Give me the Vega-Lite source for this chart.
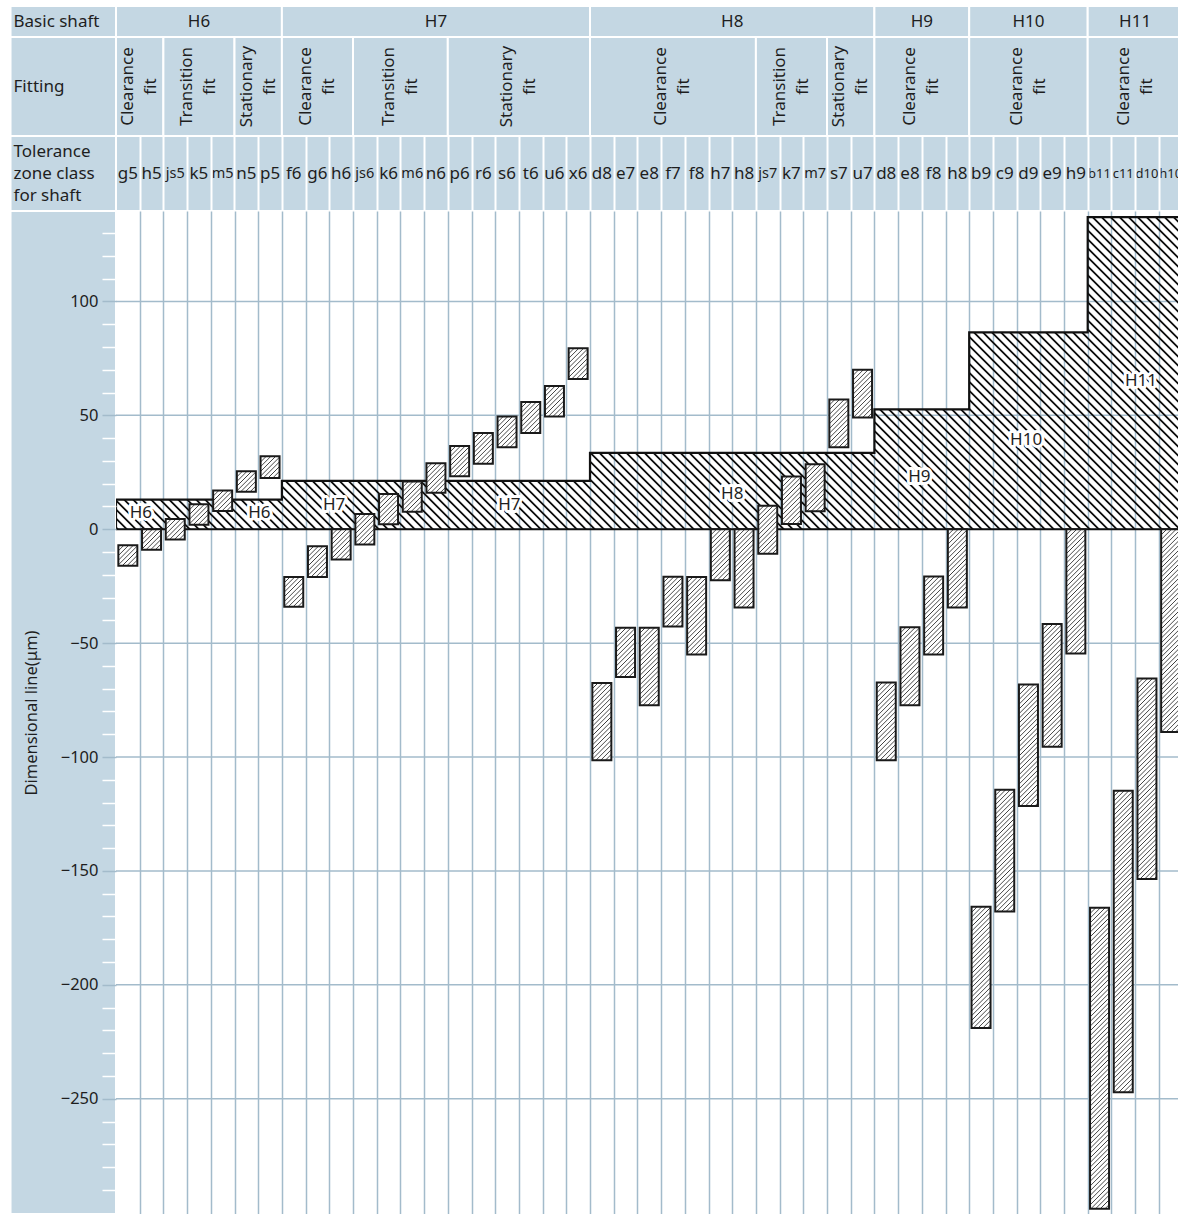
{
"$schema":"https://vega.github.io/schema/vega-lite/v6.json",
"background":"white",
"padding":{"top":6,"left":0,"right":0,"bottom":0},
"spacing":0,
"bounds":"flush",
"config":{"view":{"stroke":null},"font":"Noto Sans"},
"params":[{"name":"barStops","value":[
{"offset":0,"color":"#fff"},{"offset":0.002,"color":"#3a3a3a"},{"offset":0.004,"color":"#fff"},
{"offset":0.01,"color":"#fff"},{"offset":0.012,"color":"#3a3a3a"},{"offset":0.014,"color":"#fff"},
{"offset":0.02,"color":"#fff"},{"offset":0.022,"color":"#3a3a3a"},{"offset":0.024,"color":"#fff"},
{"offset":0.03,"color":"#fff"},{"offset":0.032,"color":"#3a3a3a"},{"offset":0.034,"color":"#fff"},
{"offset":0.04,"color":"#fff"},{"offset":0.042,"color":"#3a3a3a"},{"offset":0.044,"color":"#fff"},
{"offset":0.05,"color":"#fff"},{"offset":0.052,"color":"#3a3a3a"},{"offset":0.054,"color":"#fff"},
{"offset":0.06,"color":"#fff"},{"offset":0.062,"color":"#3a3a3a"},{"offset":0.064,"color":"#fff"},
{"offset":0.07,"color":"#fff"},{"offset":0.072,"color":"#3a3a3a"},{"offset":0.074,"color":"#fff"},
{"offset":0.08,"color":"#fff"},{"offset":0.082,"color":"#3a3a3a"},{"offset":0.084,"color":"#fff"},
{"offset":0.09,"color":"#fff"},{"offset":0.092,"color":"#3a3a3a"},{"offset":0.094,"color":"#fff"},
{"offset":0.1,"color":"#fff"},{"offset":0.102,"color":"#3a3a3a"},{"offset":0.104,"color":"#fff"},
{"offset":0.11,"color":"#fff"},{"offset":0.112,"color":"#3a3a3a"},{"offset":0.114,"color":"#fff"},
{"offset":0.12,"color":"#fff"},{"offset":0.122,"color":"#3a3a3a"},{"offset":0.124,"color":"#fff"},
{"offset":0.13,"color":"#fff"},{"offset":0.132,"color":"#3a3a3a"},{"offset":0.134,"color":"#fff"},
{"offset":0.14,"color":"#fff"},{"offset":0.142,"color":"#3a3a3a"},{"offset":0.144,"color":"#fff"},
{"offset":0.15,"color":"#fff"},{"offset":0.152,"color":"#3a3a3a"},{"offset":0.154,"color":"#fff"},
{"offset":0.16,"color":"#fff"},{"offset":0.162,"color":"#3a3a3a"},{"offset":0.164,"color":"#fff"},
{"offset":0.17,"color":"#fff"},{"offset":0.172,"color":"#3a3a3a"},{"offset":0.174,"color":"#fff"},
{"offset":0.18,"color":"#fff"},{"offset":0.182,"color":"#3a3a3a"},{"offset":0.184,"color":"#fff"},
{"offset":0.19,"color":"#fff"},{"offset":0.192,"color":"#3a3a3a"},{"offset":0.194,"color":"#fff"},
{"offset":0.2,"color":"#fff"},{"offset":0.202,"color":"#3a3a3a"},{"offset":0.204,"color":"#fff"},
{"offset":0.21,"color":"#fff"},{"offset":0.212,"color":"#3a3a3a"},{"offset":0.214,"color":"#fff"},
{"offset":0.22,"color":"#fff"},{"offset":0.222,"color":"#3a3a3a"},{"offset":0.224,"color":"#fff"},
{"offset":0.23,"color":"#fff"},{"offset":0.232,"color":"#3a3a3a"},{"offset":0.234,"color":"#fff"},
{"offset":0.24,"color":"#fff"},{"offset":0.242,"color":"#3a3a3a"},{"offset":0.244,"color":"#fff"},
{"offset":0.25,"color":"#fff"},{"offset":0.252,"color":"#3a3a3a"},{"offset":0.254,"color":"#fff"},
{"offset":0.26,"color":"#fff"},{"offset":0.262,"color":"#3a3a3a"},{"offset":0.264,"color":"#fff"},
{"offset":0.27,"color":"#fff"},{"offset":0.272,"color":"#3a3a3a"},{"offset":0.274,"color":"#fff"},
{"offset":0.28,"color":"#fff"},{"offset":0.282,"color":"#3a3a3a"},{"offset":0.284,"color":"#fff"},
{"offset":0.29,"color":"#fff"},{"offset":0.292,"color":"#3a3a3a"},{"offset":0.294,"color":"#fff"},
{"offset":0.3,"color":"#fff"},{"offset":0.302,"color":"#3a3a3a"},{"offset":0.304,"color":"#fff"},
{"offset":0.31,"color":"#fff"},{"offset":0.312,"color":"#3a3a3a"},{"offset":0.314,"color":"#fff"},
{"offset":0.32,"color":"#fff"},{"offset":0.322,"color":"#3a3a3a"},{"offset":0.324,"color":"#fff"},
{"offset":0.33,"color":"#fff"},{"offset":0.332,"color":"#3a3a3a"},{"offset":0.334,"color":"#fff"},
{"offset":0.34,"color":"#fff"},{"offset":0.342,"color":"#3a3a3a"},{"offset":0.344,"color":"#fff"},
{"offset":0.35,"color":"#fff"},{"offset":0.352,"color":"#3a3a3a"},{"offset":0.354,"color":"#fff"},
{"offset":0.36,"color":"#fff"},{"offset":0.362,"color":"#3a3a3a"},{"offset":0.364,"color":"#fff"},
{"offset":0.37,"color":"#fff"},{"offset":0.372,"color":"#3a3a3a"},{"offset":0.374,"color":"#fff"},
{"offset":0.38,"color":"#fff"},{"offset":0.382,"color":"#3a3a3a"},{"offset":0.384,"color":"#fff"},
{"offset":0.39,"color":"#fff"},{"offset":0.392,"color":"#3a3a3a"},{"offset":0.394,"color":"#fff"},
{"offset":0.4,"color":"#fff"},{"offset":0.402,"color":"#3a3a3a"},{"offset":0.404,"color":"#fff"},
{"offset":0.41,"color":"#fff"},{"offset":0.412,"color":"#3a3a3a"},{"offset":0.414,"color":"#fff"},
{"offset":0.42,"color":"#fff"},{"offset":0.422,"color":"#3a3a3a"},{"offset":0.424,"color":"#fff"},
{"offset":0.43,"color":"#fff"},{"offset":0.432,"color":"#3a3a3a"},{"offset":0.434,"color":"#fff"},
{"offset":0.44,"color":"#fff"},{"offset":0.442,"color":"#3a3a3a"},{"offset":0.444,"color":"#fff"},
{"offset":0.45,"color":"#fff"},{"offset":0.452,"color":"#3a3a3a"},{"offset":0.454,"color":"#fff"},
{"offset":0.46,"color":"#fff"},{"offset":0.462,"color":"#3a3a3a"},{"offset":0.464,"color":"#fff"},
{"offset":0.47,"color":"#fff"},{"offset":0.472,"color":"#3a3a3a"},{"offset":0.474,"color":"#fff"},
{"offset":0.48,"color":"#fff"},{"offset":0.482,"color":"#3a3a3a"},{"offset":0.484,"color":"#fff"},
{"offset":0.49,"color":"#fff"},{"offset":0.492,"color":"#3a3a3a"},{"offset":0.494,"color":"#fff"},
{"offset":0.5,"color":"#fff"},{"offset":0.502,"color":"#3a3a3a"},{"offset":0.504,"color":"#fff"},
{"offset":0.51,"color":"#fff"},{"offset":0.512,"color":"#3a3a3a"},{"offset":0.514,"color":"#fff"},
{"offset":0.52,"color":"#fff"},{"offset":0.522,"color":"#3a3a3a"},{"offset":0.524,"color":"#fff"},
{"offset":0.53,"color":"#fff"},{"offset":0.532,"color":"#3a3a3a"},{"offset":0.534,"color":"#fff"},
{"offset":0.54,"color":"#fff"},{"offset":0.542,"color":"#3a3a3a"},{"offset":0.544,"color":"#fff"},
{"offset":0.55,"color":"#fff"},{"offset":0.552,"color":"#3a3a3a"},{"offset":0.554,"color":"#fff"},
{"offset":0.56,"color":"#fff"},{"offset":0.562,"color":"#3a3a3a"},{"offset":0.564,"color":"#fff"},
{"offset":0.57,"color":"#fff"},{"offset":0.572,"color":"#3a3a3a"},{"offset":0.574,"color":"#fff"},
{"offset":0.58,"color":"#fff"},{"offset":0.582,"color":"#3a3a3a"},{"offset":0.584,"color":"#fff"},
{"offset":0.59,"color":"#fff"},{"offset":0.592,"color":"#3a3a3a"},{"offset":0.594,"color":"#fff"},
{"offset":0.6,"color":"#fff"},{"offset":0.602,"color":"#3a3a3a"},{"offset":0.604,"color":"#fff"},
{"offset":0.61,"color":"#fff"},{"offset":0.612,"color":"#3a3a3a"},{"offset":0.614,"color":"#fff"},
{"offset":0.62,"color":"#fff"},{"offset":0.622,"color":"#3a3a3a"},{"offset":0.624,"color":"#fff"},
{"offset":0.63,"color":"#fff"},{"offset":0.632,"color":"#3a3a3a"},{"offset":0.634,"color":"#fff"},
{"offset":0.64,"color":"#fff"},{"offset":0.642,"color":"#3a3a3a"},{"offset":0.644,"color":"#fff"},
{"offset":0.65,"color":"#fff"},{"offset":0.652,"color":"#3a3a3a"},{"offset":0.654,"color":"#fff"},
{"offset":0.66,"color":"#fff"},{"offset":0.662,"color":"#3a3a3a"},{"offset":0.664,"color":"#fff"},
{"offset":0.67,"color":"#fff"},{"offset":0.672,"color":"#3a3a3a"},{"offset":0.674,"color":"#fff"},
{"offset":0.68,"color":"#fff"},{"offset":0.682,"color":"#3a3a3a"},{"offset":0.684,"color":"#fff"},
{"offset":0.69,"color":"#fff"},{"offset":0.692,"color":"#3a3a3a"},{"offset":0.694,"color":"#fff"},
{"offset":0.7,"color":"#fff"},{"offset":0.702,"color":"#3a3a3a"},{"offset":0.704,"color":"#fff"}
]}],
"datasets":{
"shafts":[
{"cls":"g5","pos":0.5,"hi":-7,"lo":-16},
{"cls":"h5","pos":1.5,"hi":0,"lo":-9},
{"cls":"js5","pos":2.5,"hi":4.5,"lo":-4.5},
{"cls":"k5","pos":3.5,"hi":11,"lo":2},
{"cls":"m5","pos":4.5,"hi":17,"lo":8},
{"cls":"n5","pos":5.5,"hi":25.5,"lo":16.5},
{"cls":"p5","pos":6.5,"hi":32,"lo":22.5},
{"cls":"f6","pos":7.5,"hi":-21,"lo":-34},
{"cls":"g6","pos":8.5,"hi":-7.5,"lo":-21},
{"cls":"h6","pos":9.5,"hi":0,"lo":-13.3},
{"cls":"js6","pos":10.5,"hi":6.7,"lo":-6.7},
{"cls":"k6","pos":11.5,"hi":15.5,"lo":2.2},
{"cls":"m6","pos":12.5,"hi":21,"lo":7.7},
{"cls":"n6","pos":13.5,"hi":29,"lo":16},
{"cls":"p6","pos":14.5,"hi":36.5,"lo":23.3},
{"cls":"r6","pos":15.5,"hi":42.3,"lo":28.8},
{"cls":"s6","pos":16.5,"hi":49.5,"lo":36},
{"cls":"t6","pos":17.5,"hi":55.8,"lo":42.3},
{"cls":"u6","pos":18.5,"hi":62.9,"lo":49.5},
{"cls":"x6","pos":19.5,"hi":79.5,"lo":66},
{"cls":"d8","pos":20.5,"hi":-67.5,"lo":-101.4},
{"cls":"e7","pos":21.5,"hi":-43.2,"lo":-64.9},
{"cls":"e8","pos":22.5,"hi":-43.2,"lo":-77.3},
{"cls":"f7","pos":23.5,"hi":-20.9,"lo":-42.7},
{"cls":"f8","pos":24.5,"hi":-21,"lo":-55},
{"cls":"h7","pos":25.5,"hi":0,"lo":-22.4},
{"cls":"h8","pos":26.5,"hi":0,"lo":-34.4},
{"cls":"js7","pos":27.5,"hi":10.3,"lo":-10.8},
{"cls":"k7","pos":28.5,"hi":23.1,"lo":2.3},
{"cls":"m7","pos":29.5,"hi":28.5,"lo":7.9},
{"cls":"s7","pos":30.5,"hi":57,"lo":36},
{"cls":"u7","pos":31.5,"hi":70,"lo":49},
{"cls":"d8","pos":32.5,"hi":-67.3,"lo":-101.4},
{"cls":"e8","pos":33.5,"hi":-43,"lo":-77.3},
{"cls":"f8","pos":34.5,"hi":-20.8,"lo":-55},
{"cls":"h8","pos":35.5,"hi":0,"lo":-34.4},
{"cls":"b9","pos":36.5,"hi":-165.7,"lo":-218.9},
{"cls":"c9","pos":37.5,"hi":-114.4,"lo":-167.8},
{"cls":"d9","pos":38.5,"hi":-68.2,"lo":-121.5},
{"cls":"e9","pos":39.5,"hi":-41.6,"lo":-95.5},
{"cls":"h9","pos":40.5,"hi":0,"lo":-54.5},
{"cls":"b11","pos":41.5,"hi":-166.2,"lo":-298.3},
{"cls":"c11","pos":42.5,"hi":-114.8,"lo":-247.1},
{"cls":"d10","pos":43.5,"hi":-65.5,"lo":-153.5},
{"cls":"h10","pos":44.5,"hi":0,"lo":-89}
],
"row1":[
{"t":"Basic shaft","from":-4.45,"to":0,"mid":-2.2},
{"t":"H6","from":0,"to":7,"mid":3.5},
{"t":"H7","from":7,"to":20,"mid":13.5},
{"t":"H8","from":20,"to":32,"mid":26},
{"t":"H9","from":32,"to":36,"mid":34},
{"t":"H10","from":36,"to":41,"mid":38.5},
{"t":"H11","from":41,"to":45,"mid":43}
],
"row2":[
{"t":"Fitting","from":-4.45,"to":0,"mid":-2.2},
{"t":"Clearance\nfit","from":0,"to":2,"mid":1},
{"t":"Transition\nfit","from":2,"to":5,"mid":3.5},
{"t":"Stationary\nfit","from":5,"to":7,"mid":6},
{"t":"Clearance\nfit","from":7,"to":10,"mid":8.5},
{"t":"Transition\nfit","from":10,"to":14,"mid":12},
{"t":"Stationary\nfit","from":14,"to":20,"mid":17},
{"t":"Clearance\nfit","from":20,"to":27,"mid":23.5},
{"t":"Transition\nfit","from":27,"to":30,"mid":28.5},
{"t":"Stationary\nfit","from":30,"to":32,"mid":31},
{"t":"Clearance\nfit","from":32,"to":36,"mid":34},
{"t":"Clearance\nfit","from":36,"to":41,"mid":38.5},
{"t":"Clearance\nfit","from":41,"to":45,"mid":43}
],
"row3":[
{"t":"Tolerance\nzone class\nfor shaft","from":-4.45,"to":0},
{"t":"","from":0,"to":45}
],
"zones":[
{"c":0,"top":13},{"c":7,"top":21.2},{"c":20,"top":33.5},{"c":32,"top":52.6},{"c":36,"top":86.4},{"c":41,"top":137},{"c":45,"top":137}
],
"zoneLabels":[
{"t":"H6","x":1.05,"y":7},{"t":"H6","x":6.05,"y":7},{"t":"H7","x":9.2,"y":10.7},{"t":"H7","x":16.6,"y":10.7},{"t":"H8","x":26,"y":15.4},{"t":"H9","x":33.9,"y":23},{"t":"H10","x":38.4,"y":39},{"t":"H11","x":43.25,"y":65}
],
"grid":[{"v":-250},{"v":-200},{"v":-150},{"v":-100},{"v":-50},{"v":0},{"v":50},{"v":100}]
},
"vconcat":[
{"width":1178,"height":31,"data":{"name":"row1"},
 "layer":[
  {"mark":{"type":"rect","fill":"#c4d7e3","stroke":"white","strokeWidth":2,"clip":true},
   "encoding":{"x":{"field":"from","type":"quantitative","scale":{"domain":[-4.8945,44.8101],"nice":false,"zero":false},"axis":null},"x2":{"field":"to"},"y":{"value":0},"y2":{"value":"height"}}},
  {"transform":[{"filter":"datum.from >= 0"}],"mark":{"type":"text","fontSize":17,"color":"#1e1e1e"},
   "encoding":{"x":{"field":"mid","type":"quantitative","scale":{"domain":[-4.8945,44.8101],"nice":false,"zero":false},"axis":null},"text":{"field":"t"}}},
  {"transform":[{"filter":"datum.from < 0"}],"mark":{"type":"text","fontSize":17,"align":"left","dx":3,"color":"#1e1e1e"},
   "encoding":{"x":{"field":"from","type":"quantitative","scale":{"domain":[-4.8945,44.8101],"nice":false,"zero":false},"axis":null},"text":{"field":"t"}}}
 ]},
{"width":1178,"height":99,"data":{"name":"row2"},
 "layer":[
  {"mark":{"type":"rect","fill":"#c4d7e3","stroke":"white","strokeWidth":2,"clip":true},
   "encoding":{"x":{"field":"from","type":"quantitative","scale":{"domain":[-4.8945,44.8101],"nice":false,"zero":false},"axis":null},"x2":{"field":"to"},"y":{"value":0},"y2":{"value":"height"}}},
  {"transform":[{"filter":"datum.from >= 0"}],"mark":{"type":"text","fontSize":17,"angle":270,"lineBreak":"\n","lineHeight":23,"dy":-11.5,"color":"#1e1e1e"},
   "encoding":{"x":{"field":"mid","type":"quantitative","scale":{"domain":[-4.8945,44.8101],"nice":false,"zero":false},"axis":null},"text":{"field":"t"}}},
  {"transform":[{"filter":"datum.from < 0"}],"mark":{"type":"text","fontSize":17,"align":"left","dx":3,"color":"#1e1e1e"},
   "encoding":{"x":{"field":"from","type":"quantitative","scale":{"domain":[-4.8945,44.8101],"nice":false,"zero":false},"axis":null},"text":{"field":"t"}}}
 ]},
{"width":1178,"height":75,
 "layer":[
  {"data":{"name":"row3"},"mark":{"type":"rect","fill":"#c4d7e3","stroke":"white","strokeWidth":2,"clip":true},
   "encoding":{"x":{"field":"from","type":"quantitative","scale":{"domain":[-4.8945,44.8101],"nice":false,"zero":false},
     "axis":{"values":[1,2,3,4,5,6,7,8,9,10,11,12,13,14,15,16,17,18,19,20,21,22,23,24,25,26,27,28,29,30,31,32,33,34,35,36,37,38,39,40,41,42,43,44],"tickCount":200,"grid":true,"gridColor":"white","gridWidth":2,"labels":false,"ticks":false,"domain":false,"title":null,"zindex":1}},
    "x2":{"field":"to"},"y":{"value":0},"y2":{"value":"height"}}},
  {"data":{"name":"row3"},"transform":[{"filter":"datum.from < 0"}],"mark":{"type":"text","fontSize":17,"align":"left","dx":3,"dy":-22,"lineBreak":"\n","lineHeight":22,"color":"#1e1e1e"},
   "encoding":{"x":{"field":"from","type":"quantitative","scale":{"domain":[-4.8945,44.8101],"nice":false,"zero":false}},"text":{"field":"t"}}},
  {"data":{"name":"shafts"},"transform":[{"filter":{"not":{"field":"cls","oneOf":["js5","m5","js6","m6","js7","m7","b11","c11","d10","h10"]}}}],
   "mark":{"type":"text","fontSize":17,"color":"#1e1e1e","clip":true},
   "encoding":{"x":{"field":"pos","type":"quantitative","scale":{"domain":[-4.8945,44.8101],"nice":false,"zero":false}},"text":{"field":"cls"}}},
  {"data":{"name":"shafts"},"transform":[{"filter":{"field":"cls","oneOf":["js5","m5","js6","m6","js7","m7"]}}],
   "mark":{"type":"text","fontSize":14.5,"color":"#1e1e1e","clip":true},
   "encoding":{"x":{"field":"pos","type":"quantitative","scale":{"domain":[-4.8945,44.8101],"nice":false,"zero":false}},"text":{"field":"cls"}}},
  {"data":{"name":"shafts"},"transform":[{"filter":{"field":"cls","oneOf":["b11","c11","d10","h10"]}}],
   "mark":{"type":"text","fontSize":13,"color":"#1e1e1e","clip":true},
   "encoding":{"x":{"field":"pos","type":"quantitative","scale":{"domain":[-4.8945,44.8101],"nice":false,"zero":false}},"text":{"field":"cls"}}}
 ]},
{"hconcat":[
 {"width":116,"height":1003,"data":{"values":[{}]},"mark":{"type":"rect","fill":"#c4d7e3","stroke":"white","strokeWidth":2},
  "encoding":{"x":{"datum":-4.45,"type":"quantitative","scale":{"domain":[-4.8945,0],"nice":false,"zero":false},"axis":null},"x2":{"datum":0},"y":{"value":0},"y2":{"value":"height"}}},
 {"width":1062,"height":1003,
  "layer":[
  {"data":{"name":"grid"},"mark":{"type":"rule","stroke":"#a3bbcb","strokeWidth":1.5},
   "encoding":{"x":{"datum":0,"type":"quantitative","scale":{"domain":[0,44.8101],"nice":false,"zero":false,"padding":0},
      "axis":{"values":[1,2,3,4,5,6,7,8,9,10,11,12,13,14,15,16,17,18,19,20,21,22,23,24,25,26,27,28,29,30,31,32,33,34,35,36,37,38,39,40,41,42,43,44],"tickCount":200,"grid":true,"gridColor":"#a3bbcb","gridWidth":1.5,"labels":false,"ticks":false,"domain":false,"title":null,"zindex":0}},
    "x2":{"value":"width"},
    "y":{"field":"v","type":"quantitative","scale":{"domain":[-300.6,139.7],"nice":false,"zero":false,"padding":0},
     "axis":{"orient":"left","zindex":1,"values":[-290,-280,-270,-260,-250,-240,-230,-220,-210,-200,-190,-180,-170,-160,-150,-140,-130,-120,-110,-100,-90,-80,-70,-60,-50,-40,-30,-20,-10,0,10,20,30,40,50,60,70,80,90,100,110,120,130],
      "tickCount":200,"labelOverlap":false,"domain":false,"grid":false,"tickSize":14,"tickWidth":1.5,
      "tickColor":{"condition":{"test":"datum.value % 50 === 0","value":"#a3bbcb"},"value":"white"},
      "labelExpr":"datum.value % 50 === 0 ? datum.label : ''","labelFontSize":16.5,"labelColor":"#1e1e1e","labelPadding":4,"labelFont":"Noto Sans",
      "title":"Dimensional line(μm)","titleFontSize":16.5,"titleFontWeight":"normal","titleColor":"#1e1e1e","titleFont":"Noto Sans","titlePadding":21}}}},
  {"data":{"name":"zones"},"mark":{"type":"area","interpolate":"step-after","stroke":"#111","strokeWidth":2.2,"clip":true,
    "fill":{"gradient":"linear","x1":0,"y1":1,"x2":1.5546,"y2":0.545,"stops":[
{"offset":0,"color":"transparent"},{"offset":0.0006,"color":"#111"},{"offset":0.0014,"color":"#111"},{"offset":0.002,"color":"transparent"},{"offset":0.005,"color":"transparent"},{"offset":0.0056,"color":"#111"},{"offset":0.0064,"color":"#111"},{"offset":0.007,"color":"transparent"},
{"offset":0.01,"color":"transparent"},{"offset":0.0106,"color":"#111"},{"offset":0.0114,"color":"#111"},{"offset":0.012,"color":"transparent"},{"offset":0.015,"color":"transparent"},{"offset":0.0156,"color":"#111"},{"offset":0.0164,"color":"#111"},{"offset":0.017,"color":"transparent"},
{"offset":0.02,"color":"transparent"},{"offset":0.0206,"color":"#111"},{"offset":0.0214,"color":"#111"},{"offset":0.022,"color":"transparent"},{"offset":0.025,"color":"transparent"},{"offset":0.0256,"color":"#111"},{"offset":0.0264,"color":"#111"},{"offset":0.027,"color":"transparent"},
{"offset":0.03,"color":"transparent"},{"offset":0.0306,"color":"#111"},{"offset":0.0314,"color":"#111"},{"offset":0.032,"color":"transparent"},{"offset":0.035,"color":"transparent"},{"offset":0.0356,"color":"#111"},{"offset":0.0364,"color":"#111"},{"offset":0.037,"color":"transparent"},
{"offset":0.04,"color":"transparent"},{"offset":0.0406,"color":"#111"},{"offset":0.0414,"color":"#111"},{"offset":0.042,"color":"transparent"},{"offset":0.045,"color":"transparent"},{"offset":0.0456,"color":"#111"},{"offset":0.0464,"color":"#111"},{"offset":0.047,"color":"transparent"},
{"offset":0.05,"color":"transparent"},{"offset":0.0506,"color":"#111"},{"offset":0.0514,"color":"#111"},{"offset":0.052,"color":"transparent"},{"offset":0.055,"color":"transparent"},{"offset":0.0556,"color":"#111"},{"offset":0.0564,"color":"#111"},{"offset":0.057,"color":"transparent"},
{"offset":0.06,"color":"transparent"},{"offset":0.0606,"color":"#111"},{"offset":0.0614,"color":"#111"},{"offset":0.062,"color":"transparent"},{"offset":0.065,"color":"transparent"},{"offset":0.0656,"color":"#111"},{"offset":0.0664,"color":"#111"},{"offset":0.067,"color":"transparent"},
{"offset":0.07,"color":"transparent"},{"offset":0.0706,"color":"#111"},{"offset":0.0714,"color":"#111"},{"offset":0.072,"color":"transparent"},{"offset":0.075,"color":"transparent"},{"offset":0.0756,"color":"#111"},{"offset":0.0764,"color":"#111"},{"offset":0.077,"color":"transparent"},
{"offset":0.08,"color":"transparent"},{"offset":0.0806,"color":"#111"},{"offset":0.0814,"color":"#111"},{"offset":0.082,"color":"transparent"},{"offset":0.085,"color":"transparent"},{"offset":0.0856,"color":"#111"},{"offset":0.0864,"color":"#111"},{"offset":0.087,"color":"transparent"},
{"offset":0.09,"color":"transparent"},{"offset":0.0906,"color":"#111"},{"offset":0.0914,"color":"#111"},{"offset":0.092,"color":"transparent"},{"offset":0.095,"color":"transparent"},{"offset":0.0956,"color":"#111"},{"offset":0.0964,"color":"#111"},{"offset":0.097,"color":"transparent"},
{"offset":0.1,"color":"transparent"},{"offset":0.1006,"color":"#111"},{"offset":0.1014,"color":"#111"},{"offset":0.102,"color":"transparent"},{"offset":0.105,"color":"transparent"},{"offset":0.1056,"color":"#111"},{"offset":0.1064,"color":"#111"},{"offset":0.107,"color":"transparent"},
{"offset":0.11,"color":"transparent"},{"offset":0.1106,"color":"#111"},{"offset":0.1114,"color":"#111"},{"offset":0.112,"color":"transparent"},{"offset":0.115,"color":"transparent"},{"offset":0.1156,"color":"#111"},{"offset":0.1164,"color":"#111"},{"offset":0.117,"color":"transparent"},
{"offset":0.12,"color":"transparent"},{"offset":0.1206,"color":"#111"},{"offset":0.1214,"color":"#111"},{"offset":0.122,"color":"transparent"},{"offset":0.125,"color":"transparent"},{"offset":0.1256,"color":"#111"},{"offset":0.1264,"color":"#111"},{"offset":0.127,"color":"transparent"},
{"offset":0.13,"color":"transparent"},{"offset":0.1306,"color":"#111"},{"offset":0.1314,"color":"#111"},{"offset":0.132,"color":"transparent"},{"offset":0.135,"color":"transparent"},{"offset":0.1356,"color":"#111"},{"offset":0.1364,"color":"#111"},{"offset":0.137,"color":"transparent"},
{"offset":0.14,"color":"transparent"},{"offset":0.1406,"color":"#111"},{"offset":0.1414,"color":"#111"},{"offset":0.142,"color":"transparent"},{"offset":0.145,"color":"transparent"},{"offset":0.1456,"color":"#111"},{"offset":0.1464,"color":"#111"},{"offset":0.147,"color":"transparent"},
{"offset":0.15,"color":"transparent"},{"offset":0.1506,"color":"#111"},{"offset":0.1514,"color":"#111"},{"offset":0.152,"color":"transparent"},{"offset":0.155,"color":"transparent"},{"offset":0.1556,"color":"#111"},{"offset":0.1564,"color":"#111"},{"offset":0.157,"color":"transparent"},
{"offset":0.16,"color":"transparent"},{"offset":0.1606,"color":"#111"},{"offset":0.1614,"color":"#111"},{"offset":0.162,"color":"transparent"},{"offset":0.165,"color":"transparent"},{"offset":0.1656,"color":"#111"},{"offset":0.1664,"color":"#111"},{"offset":0.167,"color":"transparent"},
{"offset":0.17,"color":"transparent"},{"offset":0.1706,"color":"#111"},{"offset":0.1714,"color":"#111"},{"offset":0.172,"color":"transparent"},{"offset":0.175,"color":"transparent"},{"offset":0.1756,"color":"#111"},{"offset":0.1764,"color":"#111"},{"offset":0.177,"color":"transparent"},
{"offset":0.18,"color":"transparent"},{"offset":0.1806,"color":"#111"},{"offset":0.1814,"color":"#111"},{"offset":0.182,"color":"transparent"},{"offset":0.185,"color":"transparent"},{"offset":0.1856,"color":"#111"},{"offset":0.1864,"color":"#111"},{"offset":0.187,"color":"transparent"},
{"offset":0.19,"color":"transparent"},{"offset":0.1906,"color":"#111"},{"offset":0.1914,"color":"#111"},{"offset":0.192,"color":"transparent"},{"offset":0.195,"color":"transparent"},{"offset":0.1956,"color":"#111"},{"offset":0.1964,"color":"#111"},{"offset":0.197,"color":"transparent"},
{"offset":0.2,"color":"transparent"},{"offset":0.2006,"color":"#111"},{"offset":0.2014,"color":"#111"},{"offset":0.202,"color":"transparent"},{"offset":0.205,"color":"transparent"},{"offset":0.2056,"color":"#111"},{"offset":0.2064,"color":"#111"},{"offset":0.207,"color":"transparent"},
{"offset":0.21,"color":"transparent"},{"offset":0.2106,"color":"#111"},{"offset":0.2114,"color":"#111"},{"offset":0.212,"color":"transparent"},{"offset":0.215,"color":"transparent"},{"offset":0.2156,"color":"#111"},{"offset":0.2164,"color":"#111"},{"offset":0.217,"color":"transparent"},
{"offset":0.22,"color":"transparent"},{"offset":0.2206,"color":"#111"},{"offset":0.2214,"color":"#111"},{"offset":0.222,"color":"transparent"},{"offset":0.225,"color":"transparent"},{"offset":0.2256,"color":"#111"},{"offset":0.2264,"color":"#111"},{"offset":0.227,"color":"transparent"},
{"offset":0.23,"color":"transparent"},{"offset":0.2306,"color":"#111"},{"offset":0.2314,"color":"#111"},{"offset":0.232,"color":"transparent"},{"offset":0.235,"color":"transparent"},{"offset":0.2356,"color":"#111"},{"offset":0.2364,"color":"#111"},{"offset":0.237,"color":"transparent"},
{"offset":0.24,"color":"transparent"},{"offset":0.2406,"color":"#111"},{"offset":0.2414,"color":"#111"},{"offset":0.242,"color":"transparent"},{"offset":0.245,"color":"transparent"},{"offset":0.2456,"color":"#111"},{"offset":0.2464,"color":"#111"},{"offset":0.247,"color":"transparent"},
{"offset":0.25,"color":"transparent"},{"offset":0.2506,"color":"#111"},{"offset":0.2514,"color":"#111"},{"offset":0.252,"color":"transparent"},{"offset":0.255,"color":"transparent"},{"offset":0.2556,"color":"#111"},{"offset":0.2564,"color":"#111"},{"offset":0.257,"color":"transparent"},
{"offset":0.26,"color":"transparent"},{"offset":0.2606,"color":"#111"},{"offset":0.2614,"color":"#111"},{"offset":0.262,"color":"transparent"},{"offset":0.265,"color":"transparent"},{"offset":0.2656,"color":"#111"},{"offset":0.2664,"color":"#111"},{"offset":0.267,"color":"transparent"},
{"offset":0.27,"color":"transparent"},{"offset":0.2706,"color":"#111"},{"offset":0.2714,"color":"#111"},{"offset":0.272,"color":"transparent"},{"offset":0.275,"color":"transparent"},{"offset":0.2756,"color":"#111"},{"offset":0.2764,"color":"#111"},{"offset":0.277,"color":"transparent"},
{"offset":0.28,"color":"transparent"},{"offset":0.2806,"color":"#111"},{"offset":0.2814,"color":"#111"},{"offset":0.282,"color":"transparent"},{"offset":0.285,"color":"transparent"},{"offset":0.2856,"color":"#111"},{"offset":0.2864,"color":"#111"},{"offset":0.287,"color":"transparent"},
{"offset":0.29,"color":"transparent"},{"offset":0.2906,"color":"#111"},{"offset":0.2914,"color":"#111"},{"offset":0.292,"color":"transparent"},{"offset":0.295,"color":"transparent"},{"offset":0.2956,"color":"#111"},{"offset":0.2964,"color":"#111"},{"offset":0.297,"color":"transparent"},
{"offset":0.3,"color":"transparent"},{"offset":0.3006,"color":"#111"},{"offset":0.3014,"color":"#111"},{"offset":0.302,"color":"transparent"},{"offset":0.305,"color":"transparent"},{"offset":0.3056,"color":"#111"},{"offset":0.3064,"color":"#111"},{"offset":0.307,"color":"transparent"},
{"offset":0.31,"color":"transparent"},{"offset":0.3106,"color":"#111"},{"offset":0.3114,"color":"#111"},{"offset":0.312,"color":"transparent"},{"offset":0.315,"color":"transparent"},{"offset":0.3156,"color":"#111"},{"offset":0.3164,"color":"#111"},{"offset":0.317,"color":"transparent"},
{"offset":0.32,"color":"transparent"},{"offset":0.3206,"color":"#111"},{"offset":0.3214,"color":"#111"},{"offset":0.322,"color":"transparent"},{"offset":0.325,"color":"transparent"},{"offset":0.3256,"color":"#111"},{"offset":0.3264,"color":"#111"},{"offset":0.327,"color":"transparent"},
{"offset":0.33,"color":"transparent"},{"offset":0.3306,"color":"#111"},{"offset":0.3314,"color":"#111"},{"offset":0.332,"color":"transparent"},{"offset":0.335,"color":"transparent"},{"offset":0.3356,"color":"#111"},{"offset":0.3364,"color":"#111"},{"offset":0.337,"color":"transparent"},
{"offset":0.34,"color":"transparent"},{"offset":0.3406,"color":"#111"},{"offset":0.3414,"color":"#111"},{"offset":0.342,"color":"transparent"},{"offset":0.345,"color":"transparent"},{"offset":0.3456,"color":"#111"},{"offset":0.3464,"color":"#111"},{"offset":0.347,"color":"transparent"},
{"offset":0.35,"color":"transparent"},{"offset":0.3506,"color":"#111"},{"offset":0.3514,"color":"#111"},{"offset":0.352,"color":"transparent"},{"offset":0.355,"color":"transparent"},{"offset":0.3556,"color":"#111"},{"offset":0.3564,"color":"#111"},{"offset":0.357,"color":"transparent"},
{"offset":0.36,"color":"transparent"},{"offset":0.3606,"color":"#111"},{"offset":0.3614,"color":"#111"},{"offset":0.362,"color":"transparent"},{"offset":0.365,"color":"transparent"},{"offset":0.3656,"color":"#111"},{"offset":0.3664,"color":"#111"},{"offset":0.367,"color":"transparent"},
{"offset":0.37,"color":"transparent"},{"offset":0.3706,"color":"#111"},{"offset":0.3714,"color":"#111"},{"offset":0.372,"color":"transparent"},{"offset":0.375,"color":"transparent"},{"offset":0.3756,"color":"#111"},{"offset":0.3764,"color":"#111"},{"offset":0.377,"color":"transparent"},
{"offset":0.38,"color":"transparent"},{"offset":0.3806,"color":"#111"},{"offset":0.3814,"color":"#111"},{"offset":0.382,"color":"transparent"},{"offset":0.385,"color":"transparent"},{"offset":0.3856,"color":"#111"},{"offset":0.3864,"color":"#111"},{"offset":0.387,"color":"transparent"},
{"offset":0.39,"color":"transparent"},{"offset":0.3906,"color":"#111"},{"offset":0.3914,"color":"#111"},{"offset":0.392,"color":"transparent"},{"offset":0.395,"color":"transparent"},{"offset":0.3956,"color":"#111"},{"offset":0.3964,"color":"#111"},{"offset":0.397,"color":"transparent"},
{"offset":0.4,"color":"transparent"},{"offset":0.4006,"color":"#111"},{"offset":0.4014,"color":"#111"},{"offset":0.402,"color":"transparent"},{"offset":0.405,"color":"transparent"},{"offset":0.4056,"color":"#111"},{"offset":0.4064,"color":"#111"},{"offset":0.407,"color":"transparent"},
{"offset":0.41,"color":"transparent"},{"offset":0.4106,"color":"#111"},{"offset":0.4114,"color":"#111"},{"offset":0.412,"color":"transparent"},{"offset":0.415,"color":"transparent"},{"offset":0.4156,"color":"#111"},{"offset":0.4164,"color":"#111"},{"offset":0.417,"color":"transparent"},
{"offset":0.42,"color":"transparent"},{"offset":0.4206,"color":"#111"},{"offset":0.4214,"color":"#111"},{"offset":0.422,"color":"transparent"},{"offset":0.425,"color":"transparent"},{"offset":0.4256,"color":"#111"},{"offset":0.4264,"color":"#111"},{"offset":0.427,"color":"transparent"},
{"offset":0.43,"color":"transparent"},{"offset":0.4306,"color":"#111"},{"offset":0.4314,"color":"#111"},{"offset":0.432,"color":"transparent"},{"offset":0.435,"color":"transparent"},{"offset":0.4356,"color":"#111"},{"offset":0.4364,"color":"#111"},{"offset":0.437,"color":"transparent"},
{"offset":0.44,"color":"transparent"},{"offset":0.4406,"color":"#111"},{"offset":0.4414,"color":"#111"},{"offset":0.442,"color":"transparent"},{"offset":0.445,"color":"transparent"},{"offset":0.4456,"color":"#111"},{"offset":0.4464,"color":"#111"},{"offset":0.447,"color":"transparent"},
{"offset":0.45,"color":"transparent"},{"offset":0.4506,"color":"#111"},{"offset":0.4514,"color":"#111"},{"offset":0.452,"color":"transparent"},{"offset":0.455,"color":"transparent"},{"offset":0.4556,"color":"#111"},{"offset":0.4564,"color":"#111"},{"offset":0.457,"color":"transparent"},
{"offset":0.46,"color":"transparent"},{"offset":0.4606,"color":"#111"},{"offset":0.4614,"color":"#111"},{"offset":0.462,"color":"transparent"},{"offset":0.465,"color":"transparent"},{"offset":0.4656,"color":"#111"},{"offset":0.4664,"color":"#111"},{"offset":0.467,"color":"transparent"},
{"offset":0.47,"color":"transparent"},{"offset":0.4706,"color":"#111"},{"offset":0.4714,"color":"#111"},{"offset":0.472,"color":"transparent"},{"offset":0.475,"color":"transparent"},{"offset":0.4756,"color":"#111"},{"offset":0.4764,"color":"#111"},{"offset":0.477,"color":"transparent"},
{"offset":0.48,"color":"transparent"},{"offset":0.4806,"color":"#111"},{"offset":0.4814,"color":"#111"},{"offset":0.482,"color":"transparent"},{"offset":0.485,"color":"transparent"},{"offset":0.4856,"color":"#111"},{"offset":0.4864,"color":"#111"},{"offset":0.487,"color":"transparent"},
{"offset":0.49,"color":"transparent"},{"offset":0.4906,"color":"#111"},{"offset":0.4914,"color":"#111"},{"offset":0.492,"color":"transparent"},{"offset":0.495,"color":"transparent"},{"offset":0.4956,"color":"#111"},{"offset":0.4964,"color":"#111"},{"offset":0.497,"color":"transparent"},
{"offset":0.5,"color":"transparent"},{"offset":0.5006,"color":"#111"},{"offset":0.5014,"color":"#111"},{"offset":0.502,"color":"transparent"},{"offset":0.505,"color":"transparent"},{"offset":0.5056,"color":"#111"},{"offset":0.5064,"color":"#111"},{"offset":0.507,"color":"transparent"},
{"offset":0.51,"color":"transparent"},{"offset":0.5106,"color":"#111"},{"offset":0.5114,"color":"#111"},{"offset":0.512,"color":"transparent"},{"offset":0.515,"color":"transparent"},{"offset":0.5156,"color":"#111"},{"offset":0.5164,"color":"#111"},{"offset":0.517,"color":"transparent"},
{"offset":0.52,"color":"transparent"},{"offset":0.5206,"color":"#111"},{"offset":0.5214,"color":"#111"},{"offset":0.522,"color":"transparent"},{"offset":0.525,"color":"transparent"},{"offset":0.5256,"color":"#111"},{"offset":0.5264,"color":"#111"},{"offset":0.527,"color":"transparent"},
{"offset":0.53,"color":"transparent"},{"offset":0.5306,"color":"#111"},{"offset":0.5314,"color":"#111"},{"offset":0.532,"color":"transparent"},{"offset":0.535,"color":"transparent"},{"offset":0.5356,"color":"#111"},{"offset":0.5364,"color":"#111"},{"offset":0.537,"color":"transparent"},
{"offset":0.54,"color":"transparent"},{"offset":0.5406,"color":"#111"},{"offset":0.5414,"color":"#111"},{"offset":0.542,"color":"transparent"},{"offset":0.545,"color":"transparent"},{"offset":0.5456,"color":"#111"},{"offset":0.5464,"color":"#111"},{"offset":0.547,"color":"transparent"},
{"offset":0.55,"color":"transparent"},{"offset":0.5506,"color":"#111"},{"offset":0.5514,"color":"#111"},{"offset":0.552,"color":"transparent"},{"offset":0.555,"color":"transparent"},{"offset":0.5556,"color":"#111"},{"offset":0.5564,"color":"#111"},{"offset":0.557,"color":"transparent"},
{"offset":0.56,"color":"transparent"},{"offset":0.5606,"color":"#111"},{"offset":0.5614,"color":"#111"},{"offset":0.562,"color":"transparent"},{"offset":0.565,"color":"transparent"},{"offset":0.5656,"color":"#111"},{"offset":0.5664,"color":"#111"},{"offset":0.567,"color":"transparent"},
{"offset":0.57,"color":"transparent"},{"offset":0.5706,"color":"#111"},{"offset":0.5714,"color":"#111"},{"offset":0.572,"color":"transparent"},{"offset":0.575,"color":"transparent"},{"offset":0.5756,"color":"#111"},{"offset":0.5764,"color":"#111"},{"offset":0.577,"color":"transparent"},
{"offset":0.58,"color":"transparent"},{"offset":0.5806,"color":"#111"},{"offset":0.5814,"color":"#111"},{"offset":0.582,"color":"transparent"},{"offset":0.585,"color":"transparent"},{"offset":0.5856,"color":"#111"},{"offset":0.5864,"color":"#111"},{"offset":0.587,"color":"transparent"},
{"offset":0.59,"color":"transparent"},{"offset":0.5906,"color":"#111"},{"offset":0.5914,"color":"#111"},{"offset":0.592,"color":"transparent"},{"offset":0.595,"color":"transparent"},{"offset":0.5956,"color":"#111"},{"offset":0.5964,"color":"#111"},{"offset":0.597,"color":"transparent"},
{"offset":0.6,"color":"transparent"},{"offset":0.6006,"color":"#111"},{"offset":0.6014,"color":"#111"},{"offset":0.602,"color":"transparent"},{"offset":0.605,"color":"transparent"},{"offset":0.6056,"color":"#111"},{"offset":0.6064,"color":"#111"},{"offset":0.607,"color":"transparent"},
{"offset":0.61,"color":"transparent"},{"offset":0.6106,"color":"#111"},{"offset":0.6114,"color":"#111"},{"offset":0.612,"color":"transparent"},{"offset":0.615,"color":"transparent"},{"offset":0.6156,"color":"#111"},{"offset":0.6164,"color":"#111"},{"offset":0.617,"color":"transparent"},
{"offset":0.62,"color":"transparent"},{"offset":0.6206,"color":"#111"},{"offset":0.6214,"color":"#111"},{"offset":0.622,"color":"transparent"},{"offset":0.625,"color":"transparent"},{"offset":0.6256,"color":"#111"},{"offset":0.6264,"color":"#111"},{"offset":0.627,"color":"transparent"},
{"offset":0.63,"color":"transparent"},{"offset":0.6306,"color":"#111"},{"offset":0.6314,"color":"#111"},{"offset":0.632,"color":"transparent"},{"offset":0.635,"color":"transparent"},{"offset":0.6356,"color":"#111"},{"offset":0.6364,"color":"#111"},{"offset":0.637,"color":"transparent"},
{"offset":0.64,"color":"transparent"},{"offset":0.6406,"color":"#111"},{"offset":0.6414,"color":"#111"},{"offset":0.642,"color":"transparent"},{"offset":0.645,"color":"transparent"},{"offset":0.6456,"color":"#111"},{"offset":0.6464,"color":"#111"},{"offset":0.647,"color":"transparent"},
{"offset":0.65,"color":"transparent"},{"offset":0.6506,"color":"#111"},{"offset":0.6514,"color":"#111"},{"offset":0.652,"color":"transparent"},{"offset":0.655,"color":"transparent"},{"offset":0.6556,"color":"#111"},{"offset":0.6564,"color":"#111"},{"offset":0.657,"color":"transparent"},
{"offset":0.66,"color":"transparent"},{"offset":0.6606,"color":"#111"},{"offset":0.6614,"color":"#111"},{"offset":0.662,"color":"transparent"},{"offset":0.665,"color":"transparent"},{"offset":0.6656,"color":"#111"},{"offset":0.6664,"color":"#111"},{"offset":0.667,"color":"transparent"},
{"offset":0.67,"color":"transparent"},{"offset":0.6706,"color":"#111"},{"offset":0.6714,"color":"#111"},{"offset":0.672,"color":"transparent"},{"offset":0.675,"color":"transparent"},{"offset":0.6756,"color":"#111"},{"offset":0.6764,"color":"#111"},{"offset":0.677,"color":"transparent"},
{"offset":0.68,"color":"transparent"},{"offset":0.6806,"color":"#111"},{"offset":0.6814,"color":"#111"},{"offset":0.682,"color":"transparent"},{"offset":0.685,"color":"transparent"},{"offset":0.6856,"color":"#111"},{"offset":0.6864,"color":"#111"},{"offset":0.687,"color":"transparent"},
{"offset":0.69,"color":"transparent"},{"offset":0.6906,"color":"#111"},{"offset":0.6914,"color":"#111"},{"offset":0.692,"color":"transparent"},{"offset":0.695,"color":"transparent"},{"offset":0.6956,"color":"#111"},{"offset":0.6964,"color":"#111"},{"offset":0.697,"color":"transparent"},
{"offset":0.7,"color":"transparent"},{"offset":0.7006,"color":"#111"},{"offset":0.7014,"color":"#111"},{"offset":0.702,"color":"transparent"},{"offset":0.705,"color":"transparent"},{"offset":0.7056,"color":"#111"},{"offset":0.7064,"color":"#111"},{"offset":0.707,"color":"transparent"},
{"offset":0.71,"color":"transparent"},{"offset":0.7106,"color":"#111"},{"offset":0.7114,"color":"#111"},{"offset":0.712,"color":"transparent"},{"offset":0.715,"color":"transparent"},{"offset":0.7156,"color":"#111"},{"offset":0.7164,"color":"#111"},{"offset":0.717,"color":"transparent"},
{"offset":0.72,"color":"transparent"},{"offset":0.7206,"color":"#111"},{"offset":0.7214,"color":"#111"},{"offset":0.722,"color":"transparent"},{"offset":0.725,"color":"transparent"},{"offset":0.7256,"color":"#111"},{"offset":0.7264,"color":"#111"},{"offset":0.727,"color":"transparent"},
{"offset":0.73,"color":"transparent"},{"offset":0.7306,"color":"#111"},{"offset":0.7314,"color":"#111"},{"offset":0.732,"color":"transparent"},{"offset":0.735,"color":"transparent"},{"offset":0.7356,"color":"#111"},{"offset":0.7364,"color":"#111"},{"offset":0.737,"color":"transparent"},
{"offset":0.74,"color":"transparent"},{"offset":0.7406,"color":"#111"},{"offset":0.7414,"color":"#111"},{"offset":0.742,"color":"transparent"},{"offset":0.745,"color":"transparent"},{"offset":0.7456,"color":"#111"},{"offset":0.7464,"color":"#111"},{"offset":0.747,"color":"transparent"},
{"offset":0.75,"color":"transparent"},{"offset":0.7506,"color":"#111"},{"offset":0.7514,"color":"#111"},{"offset":0.752,"color":"transparent"},{"offset":0.755,"color":"transparent"},{"offset":0.7556,"color":"#111"},{"offset":0.7564,"color":"#111"},{"offset":0.757,"color":"transparent"},
{"offset":0.76,"color":"transparent"},{"offset":0.7606,"color":"#111"},{"offset":0.7614,"color":"#111"},{"offset":0.762,"color":"transparent"},{"offset":0.765,"color":"transparent"},{"offset":0.7656,"color":"#111"},{"offset":0.7664,"color":"#111"},{"offset":0.767,"color":"transparent"}
    ]}},
   "encoding":{"x":{"field":"c","type":"quantitative","scale":{"domain":[0,44.8101],"nice":false,"zero":false,"padding":0}},
    "y":{"field":"top","type":"quantitative","scale":{"domain":[-300.6,139.7],"nice":false,"zero":false,"padding":0}},"y2":{"datum":0}}},
  {"data":{"name":"shafts"},"mark":{"type":"bar","width":19,"stroke":"#1a1a1a","strokeWidth":2,"clip":true},
   "encoding":{"x":{"field":"pos","type":"quantitative","scale":{"domain":[0,44.8101],"nice":false,"zero":false,"padding":0}},
    "y":{"field":"hi","type":"quantitative","scale":{"domain":[-300.6,139.7],"nice":false,"zero":false,"padding":0}},
    "y2":{"field":"lo"},
    "fill":{"value":{"expr":"{gradient:'linear',x1:0,y1:0,x2:8930/(361+pow(2.278*(datum.hi-datum.lo),2)),y2:1070.66*(datum.hi-datum.lo)/(361+pow(2.278*(datum.hi-datum.lo),2)),stops:barStops}"}}}},
  {"data":{"name":"zoneLabels"},"mark":{"type":"text","fontSize":17,"stroke":"white","strokeWidth":6,"strokeJoin":"round","fill":"white"},
   "encoding":{"x":{"field":"x","type":"quantitative","scale":{"domain":[0,44.8101],"nice":false,"zero":false,"padding":0}},
    "y":{"field":"y","type":"quantitative","scale":{"domain":[-300.6,139.7],"nice":false,"zero":false,"padding":0}},"text":{"field":"t"}}},
  {"data":{"name":"zoneLabels"},"mark":{"type":"text","fontSize":17,"fill":"#1e1e1e"},
   "encoding":{"x":{"field":"x","type":"quantitative","scale":{"domain":[0,44.8101],"nice":false,"zero":false,"padding":0}},
    "y":{"field":"y","type":"quantitative","scale":{"domain":[-300.6,139.7],"nice":false,"zero":false,"padding":0}},"text":{"field":"t"}}}
  ]}
],"spacing":0,"bounds":"flush"}
]
}
